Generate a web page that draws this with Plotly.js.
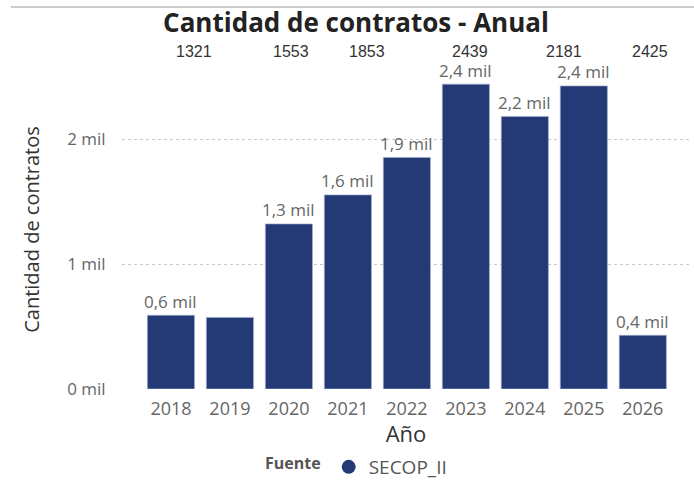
<!DOCTYPE html>
<html>
<head>
<meta charset="utf-8">
<script src="https://cdn.plot.ly/plotly-3.0.1.min.js"></script>
<style>html,body{margin:0;padding:0;background:#fff;}#chart{width:694px;height:483px;}</style>
</head>
<body>
<div id="chart"></div>
<script>
const years = ['2018','2019','2020','2021','2022','2023','2024','2025','2026'];
const contratos = [590, 573, 1321, 1553, 1853, 2439, 2181, 2425, 430];
const hiddenLabelYears = ['2019'];
const topLabelYears = ['2020','2021','2022','2023','2024','2025'];
const yTickVals = [0, 1000, 2000];
const yTickText = ['0 mil', '1 mil', '2 mil'];
const seriesName = 'SECOP_II';

const fmt = v => (v/1000).toFixed(1).replace('.', ',') + ' mil';

const FONT = '"Segoe UI", "Open Sans", "Noto Sans", sans-serif';
const L = 122, R = 4, T = 70, B = 94, W = 694, H = 483;
const pw = W - L - R, ph = H - T - B;
const topPx = [194, 291, 367, 470, 564, 650];

const annotations = [];
// top row of raw values
topLabelYears.forEach((yr,i) => annotations.push({
  xref:'paper', yref:'paper', x: (topPx[i]-L)/pw, y: (H-B-52)/ph, yanchor:'middle', xanchor:'center',
  text: String(contratos[years.indexOf(yr)]), showarrow:false,
  font:{family:'"Liberation Sans", Arial, sans-serif', size:16, color:'#333'}
}));
// bar value labels
years.forEach((yr,i) => {
  if (hiddenLabelYears.includes(yr)) return;
  annotations.push({x:i, y:contratos[i], xref:'x', yref:'y', xanchor:'center', yanchor:'middle', yshift:14,
    text: fmt(contratos[i]), showarrow:false,
    font:{family:FONT, size:17, color:'#666'}});
});

const data = [
  {type:'bar', x: years, y: contratos,
   marker:{color:'#233a77', line:{color:'#a9b3d1', width:0.7}},
   showlegend:false, hoverinfo:'x+y'},
  {type:'scatter', mode:'markers', x:[null], y:[null], name: seriesName,
   marker:{symbol:'circle', size:14, color:'#233a77'}, showlegend:true}
];

const layout = {
  width:W, height:H,
  margin:{l:L, r:R, t:T, b:B},
  paper_bgcolor:'#fff', plot_bgcolor:'#fff',
  title:{text:'<b>Cantidad de contratos - Anual</b>', x:356/W, xanchor:'center', y:1-23/H, yanchor:'middle',
         font:{family:FONT, size:26, color:'#222'}},
  bargap:0.2,
  xaxis:{type:'category', range:[-0.83, 8.8], showgrid:false, zeroline:false, showline:false, automargin:false,
         ticks:'outside', ticklen:3, tickcolor:'rgba(0,0,0,0)',
         tickfont:{family:FONT, size:18, color:'#666'},
         title:{text:'Año', font:{family:FONT, size:22, color:'#333'}, standoff:7}},
  yaxis:{range:[0, 2552], tickvals:yTickVals, ticktext:yTickText, automargin:false,
         showgrid:true, gridcolor:'#c8c8c8', griddash:'dot', gridwidth:1, zeroline:false, showline:false,
         ticks:'outside', ticklen:12, tickcolor:'rgba(0,0,0,0)',
         tickfont:{family:FONT, size:17, color:'#666'},
         title:{text:'Cantidad de contratos', font:{family:FONT, size:20, color:'#333'}, standoff:22}},
  showlegend:true,
  legend:{orientation:'h', xref:'container', yref:'container', x:263/W, xanchor:'left', y:1-467/H, yanchor:'middle',
          title:{text:'<b>Fuente</b>', font:{family:FONT, size:16, color:'#555'}},
          font:{family:FONT, size:19, color:'#555'}, itemwidth:30, tracegroupgap:0},
  annotations: annotations,
  shapes:[{type:'line', xref:'paper', yref:'paper', x0:(11-L)/pw, x1:(W-L)/pw, y0:(H-B-7)/ph, y1:(H-B-7)/ph,
           line:{color:'#cccccc', width:2}}]
};
Plotly.newPlot('chart', data, layout, {displayModeBar:false});
</script>
</body>
</html>
